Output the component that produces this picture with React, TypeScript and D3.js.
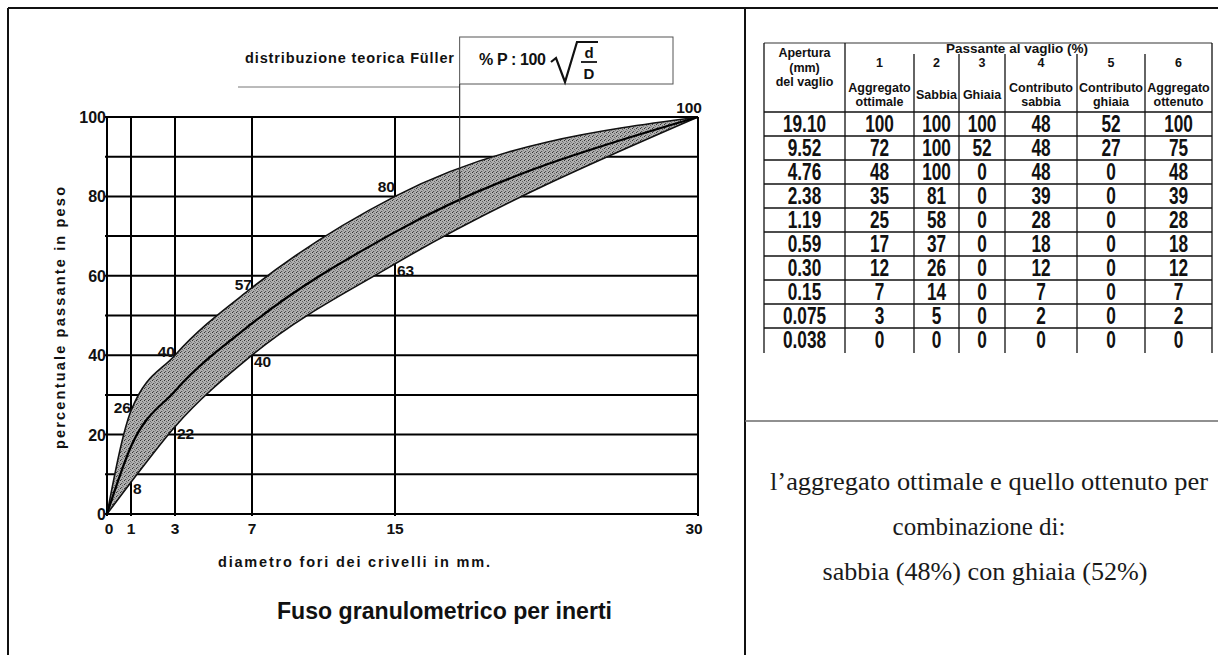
import * as d3 from "d3";
import { useLayoutEffect, useRef } from "react";

// fuso granulometrico (diametro in mm, % passante)
const sieveSizes = [0, 1, 3, 7, 15, 30];
const upperLimit = [0, 26, 40, 57, 80, 100];
const lowerLimit = [0, 8, 22, 40, 63, 100];
const fullerCurve = [0, 17, 31, 48, 71, 100];
const yTickValues = [0, 20, 40, 60, 80, 100];
const fullerPointerSize = 18.2;

// tabella vagli
const apertures = ["19.10", "9.52", "4.76", "2.38", "1.19", "0.59", "0.30", "0.15", "0.075", "0.038"];
const aggregatoOttimale = [100, 72, 48, 35, 25, 17, 12, 7, 3, 0];
const sabbia = [100, 100, 100, 81, 58, 37, 26, 14, 5, 0];
const ghiaia = [100, 52, 0, 0, 0, 0, 0, 0, 0, 0];
const contributoSabbia = [48, 48, 48, 39, 28, 18, 12, 7, 2, 0];
const contributoGhiaia = [52, 27, 0, 0, 0, 0, 0, 0, 0, 0];
const aggregatoOttenuto = [100, 75, 48, 39, 28, 18, 12, 7, 2, 0];
const columnNumbers = ["1", "2", "3", "4", "5", "6"];
const columnLabels = [
  ["Aggregato", "ottimale"],
  ["Sabbia"],
  ["Ghiaia"],
  ["Contributo", "sabbia"],
  ["Contributo", "ghiaia"],
  ["Aggregato", "ottenuto"],
];
const noteLines = [
  "l\u2019aggregato ottimale e quello ottenuto per",
  "combinazione di:",
  "sabbia (48%) con ghiaia (52%)",
];

const WIDTH = 1218;
const HEIGHT = 655;
const SANS = "'Liberation Sans', Arial, sans-serif";
const SERIF = "'Liberation Serif', 'Times New Roman', serif";

export default function App() {
  const svgElement = useRef<any>(null);

  useLayoutEffect(() => {
    const svg = svgElement.current;
    svg.selectAll("*").remove();

    svg.append("rect").attr("width", WIDTH).attr("height", HEIGHT).attr("fill", "#fff");

    const defs = svg.append("defs");
    const pat = defs
      .append("pattern")
      .attr("id", "stipple")
      .attr("width", 4)
      .attr("height", 4)
      .attr("patternUnits", "userSpaceOnUse");
    pat.append("rect").attr("width", 4).attr("height", 4).attr("fill", "#b0b0b0");
    [[0, 0, "#333"], [2, 1, "#666"], [1, 3, "#505050"], [3, 2, "#808080"], [2, 3, "#9a9a9a"]].forEach(
      ([px, py, c]) =>
        pat.append("rect").attr("x", px).attr("y", py).attr("width", 1).attr("height", 1).attr("fill", c)
    );

    // cornice
    const frame = svg.append("g").attr("stroke", "#111").attr("stroke-width", 2);
    frame.append("line").attr("x1", 8).attr("x2", WIDTH).attr("y1", 8).attr("y2", 8);
    frame.append("line").attr("x1", 8).attr("x2", 8).attr("y1", 8).attr("y2", HEIGHT);
    frame.append("line").attr("x1", 745).attr("x2", 745).attr("y1", 8).attr("y2", HEIGHT);
    frame
      .append("line")
      .attr("x1", 745)
      .attr("x2", WIDTH)
      .attr("y1", 421)
      .attr("y2", 421)
      .attr("stroke", "#6b6b6b")
      .attr("stroke-width", 1.5);

    // ---------- grafico ----------
    const x = d3.scaleLinear().domain(sieveSizes).range([107, 131, 175, 252, 395, 698]);
    const y = d3.scaleLinear().domain([0, 100]).range([514, 117]);

    const chart = svg.append("g").attr("class", "fuso");
    const grid = chart.append("g").attr("stroke", "#000").attr("stroke-width", 2);
    grid
      .selectAll("line.h")
      .data(y.ticks(10))
      .join("line")
      .attr("x1", x(0) - 2)
      .attr("x2", x(30))
      .attr("y1", (d: number) => y(d))
      .attr("y2", (d: number) => y(d));
    grid
      .selectAll("line.v")
      .data(sieveSizes)
      .join("line")
      .attr("x1", (d: number) => x(d))
      .attr("x2", (d: number) => x(d))
      .attr("y1", y(0) + 2)
      .attr("y2", y(100));

    const pts = (vals: number[]) => sieveSizes.map((d, i) => [d, vals[i]] as [number, number]);
    const band = d3
      .area<number>()
      .x((i) => x(sieveSizes[i]))
      .y0((i) => y(lowerLimit[i]))
      .y1((i) => y(upperLimit[i]))
      .curve(d3.curveMonotoneX);
    const line = d3
      .line<[number, number]>()
      .x((d) => x(d[0]))
      .y((d) => y(d[1]))
      .curve(d3.curveMonotoneX);

    chart
      .append("path")
      .attr("d", band(d3.range(sieveSizes.length)))
      .attr("fill", "url(#stipple)");
    [upperLimit, lowerLimit].forEach((vals) =>
      chart
        .append("path")
        .attr("d", line(pts(vals)))
        .attr("fill", "none")
        .attr("stroke", "#111")
        .attr("stroke-width", 1.6)
    );
    chart
      .append("path")
      .attr("d", line(pts(fullerCurve)))
      .attr("fill", "none")
      .attr("stroke", "#000")
      .attr("stroke-width", 2.2);

    const labelFont = (sel: any, size: number) =>
      sel.attr("font-family", SANS).attr("font-weight", "bold").attr("font-size", size).attr("fill", "#111");

    // etichette dei limiti
    labelFont(chart.append("g"), 15.5)
      .selectAll("text")
      .data(sieveSizes.slice(1))
      .join("text")
      .attr("text-anchor", "end")
      .attr("x", (d: number) => x(d) + (d === 30 ? 4 : 0))
      .attr("y", (d: number, i: number) => y(upperLimit[i + 1]) + 2 - (d >= 15 ? 6 : 0))
      .text((d: number, i: number) => upperLimit[i + 1]);
    labelFont(chart.append("g"), 15.5)
      .selectAll("text")
      .data(sieveSizes.slice(1, 5))
      .join("text")
      .attr("x", (d: number) => x(d) + 2)
      .attr("y", (d: number, i: number) => y(lowerLimit[i + 1]) + 12)
      .text((d: number, i: number) => lowerLimit[i + 1]);

    // assi
    labelFont(chart.append("g"), 16)
      .selectAll("text")
      .data(yTickValues)
      .join("text")
      .attr("text-anchor", "end")
      .attr("x", x(0) - 1)
      .attr("y", (d: number) => y(d) + 6)
      .text((d: number) => d);
    labelFont(chart.append("g"), 15.5)
      .selectAll("text")
      .data(sieveSizes)
      .join("text")
      .attr("text-anchor", "middle")
      .attr("x", (d: number) => x(d) + (d === 0 ? 2 : d === 30 ? -4 : 0))
      .attr("y", y(0) + 20)
      .text((d: number) => d);

    labelFont(chart.append("text"), 14.5)
      .attr("transform", `translate(65, 318) rotate(-90)`)
      .attr("text-anchor", "middle")
      .attr("textLength", 262)
      .attr("lengthAdjust", "spacing")
      .text("percentuale passante in peso");
    labelFont(chart.append("text"), 14.5)
      .attr("x", 218)
      .attr("y", 567)
      .attr("textLength", 272)
      .attr("lengthAdjust", "spacing")
      .text("diametro fori dei crivelli in mm.");
    labelFont(chart.append("text"), 24)
      .attr("x", 277)
      .attr("y", 619)
      .attr("textLength", 335)
      .attr("lengthAdjust", "spacingAndGlyphs")
      .text("Fuso granulometrico per inerti");

    // riquadro Fuller
    const px = x(fullerPointerSize);
    const pointerValue = d3.interpolateNumber(fullerCurve[4], fullerCurve[5])((fullerPointerSize - 15) / 15);
    labelFont(chart.append("text"), 14.5)
      .attr("x", 245)
      .attr("y", 63)
      .attr("textLength", 209)
      .attr("lengthAdjust", "spacing")
      .text("distribuzione teorica F\u00fcller");
    chart
      .append("line")
      .attr("x1", 238)
      .attr("x2", px)
      .attr("y1", 87)
      .attr("y2", 87)
      .attr("stroke", "#777")
      .attr("stroke-width", 1);
    chart
      .append("rect")
      .attr("x", px)
      .attr("y", 37)
      .attr("width", 673 - px)
      .attr("height", 47)
      .attr("fill", "none")
      .attr("stroke", "#555")
      .attr("stroke-width", 1);
    chart
      .append("line")
      .attr("x1", px)
      .attr("x2", px)
      .attr("y1", 84)
      .attr("y2", y(pointerValue) - 4)
      .attr("stroke", "#333")
      .attr("stroke-width", 1.2);
    labelFont(chart.append("text"), 16)
      .attr("x", 479)
      .attr("y", 65)
      .attr("textLength", 67)
      .attr("lengthAdjust", "spacing")
      .text("% P : 100");
    chart
      .append("path")
      .attr("d", "M551,62 L556,58 L565,82 L577,42 L598,42")
      .attr("fill", "none")
      .attr("stroke", "#111")
      .attr("stroke-width", 2.2);
    chart
      .append("line")
      .attr("x1", 581)
      .attr("x2", 597)
      .attr("y1", 62)
      .attr("y2", 62)
      .attr("stroke", "#111")
      .attr("stroke-width", 1.8);
    labelFont(chart.append("text"), 15).attr("x", 589).attr("y", 58).attr("text-anchor", "middle").text("d");
    labelFont(chart.append("text"), 15).attr("x", 589).attr("y", 79).attr("text-anchor", "middle").text("D");

    // ---------- tabella ----------
    const cols = [764, 845, 914, 959, 1005, 1077, 1145, 1212];
    const colCenter = (i: number) => (cols[i] + cols[i + 1]) / 2;
    const rowY = d3.scaleBand<string>().domain(apertures).range([112, 352]);
    const table = svg.append("g").attr("class", "tabella");
    const tl = table.append("g").attr("stroke", "#111").attr("stroke-width", 1.3);
    tl.append("line").attr("x1", cols[0]).attr("x2", cols[7]).attr("y1", 43).attr("y2", 43).attr("stroke", "#777");
    cols.forEach((cx, i) =>
      tl
        .append("line")
        .attr("x1", cx)
        .attr("x2", cx)
        .attr("y1", i <= 1 || i === 7 ? 43 : 54)
        .attr("y2", 353)
    );
    tl.append("line").attr("x1", cols[0]).attr("x2", cols[7]).attr("y1", 112).attr("y2", 112);
    tl
      .selectAll("line.row")
      .data(apertures.slice(0, -1))
      .join("line")
      .attr("x1", cols[0])
      .attr("x2", cols[7])
      .attr("y1", (d: string) => rowY(d)! + rowY.bandwidth())
      .attr("y2", (d: string) => rowY(d)! + rowY.bandwidth());

    const head = labelFont(table.append("g"), 12.5).attr("text-anchor", "middle");
    [["Apertura", 57], ["(mm)", 72], ["del vaglio", 86]].forEach(([t, ty]) =>
      head.append("text").attr("x", colCenter(0)).attr("y", ty).text(t)
    );
    head.append("text").attr("x", 1017).attr("y", 53).attr("font-size", 13.5).text("Passante al vaglio (%)");
    columnNumbers.forEach((n, i) => head.append("text").attr("x", colCenter(i + 1)).attr("y", 67).text(n));
    columnLabels.forEach((lbl, i) =>
      lbl.forEach((t, j) =>
        head
          .append("text")
          .attr("x", colCenter(i + 1))
          .attr("y", lbl.length === 1 ? 99 : 92 + j * 14)
          .text(t)
      )
    );

    const columns = [
      apertures,
      aggregatoOttimale,
      sabbia,
      ghiaia,
      contributoSabbia,
      contributoGhiaia,
      aggregatoOttenuto,
    ];
    const body = labelFont(table.append("g"), 23).attr("text-anchor", "middle");
    columns.forEach((vals, ci) =>
      body
        .selectAll(`text.c${ci}`)
        .data(vals)
        .join("text")
        .attr("class", `c${ci}`)
        .attr(
          "transform",
          (d: any, ri: number) => `translate(${colCenter(ci)},${rowY(apertures[ri])! + 20}) scale(0.75,1)`
        )
        .text((d: any) => d)
    );

    // ---------- nota ----------
    const noteWidths = [438, null, 325];
    svg
      .append("g")
      .attr("font-family", SERIF)
      .attr("font-size", 25)
      .attr("fill", "#1a1a1a")
      .attr("text-anchor", "middle")
      .selectAll("text")
      .data(noteLines)
      .join("text")
      .attr("x", (d: string, i: number) => (i === 1 ? 979 : i === 0 ? 989 : 985))
      .attr("y", (d: string, i: number) => 490 + i * 45)
      .attr("textLength", (d: string, i: number) => noteWidths[i])
      .attr("lengthAdjust", "spacingAndGlyphs")
      .text((d: string) => d);
  }, []);

  return (
    <div style={{ position: "absolute", left: 0, top: 0 }}>
      <svg
        width={WIDTH}
        height={HEIGHT}
        style={{ display: "block" }}
        ref={(e) => void (svgElement.current = d3.select(e))}
      ></svg>
    </div>
  );
}
